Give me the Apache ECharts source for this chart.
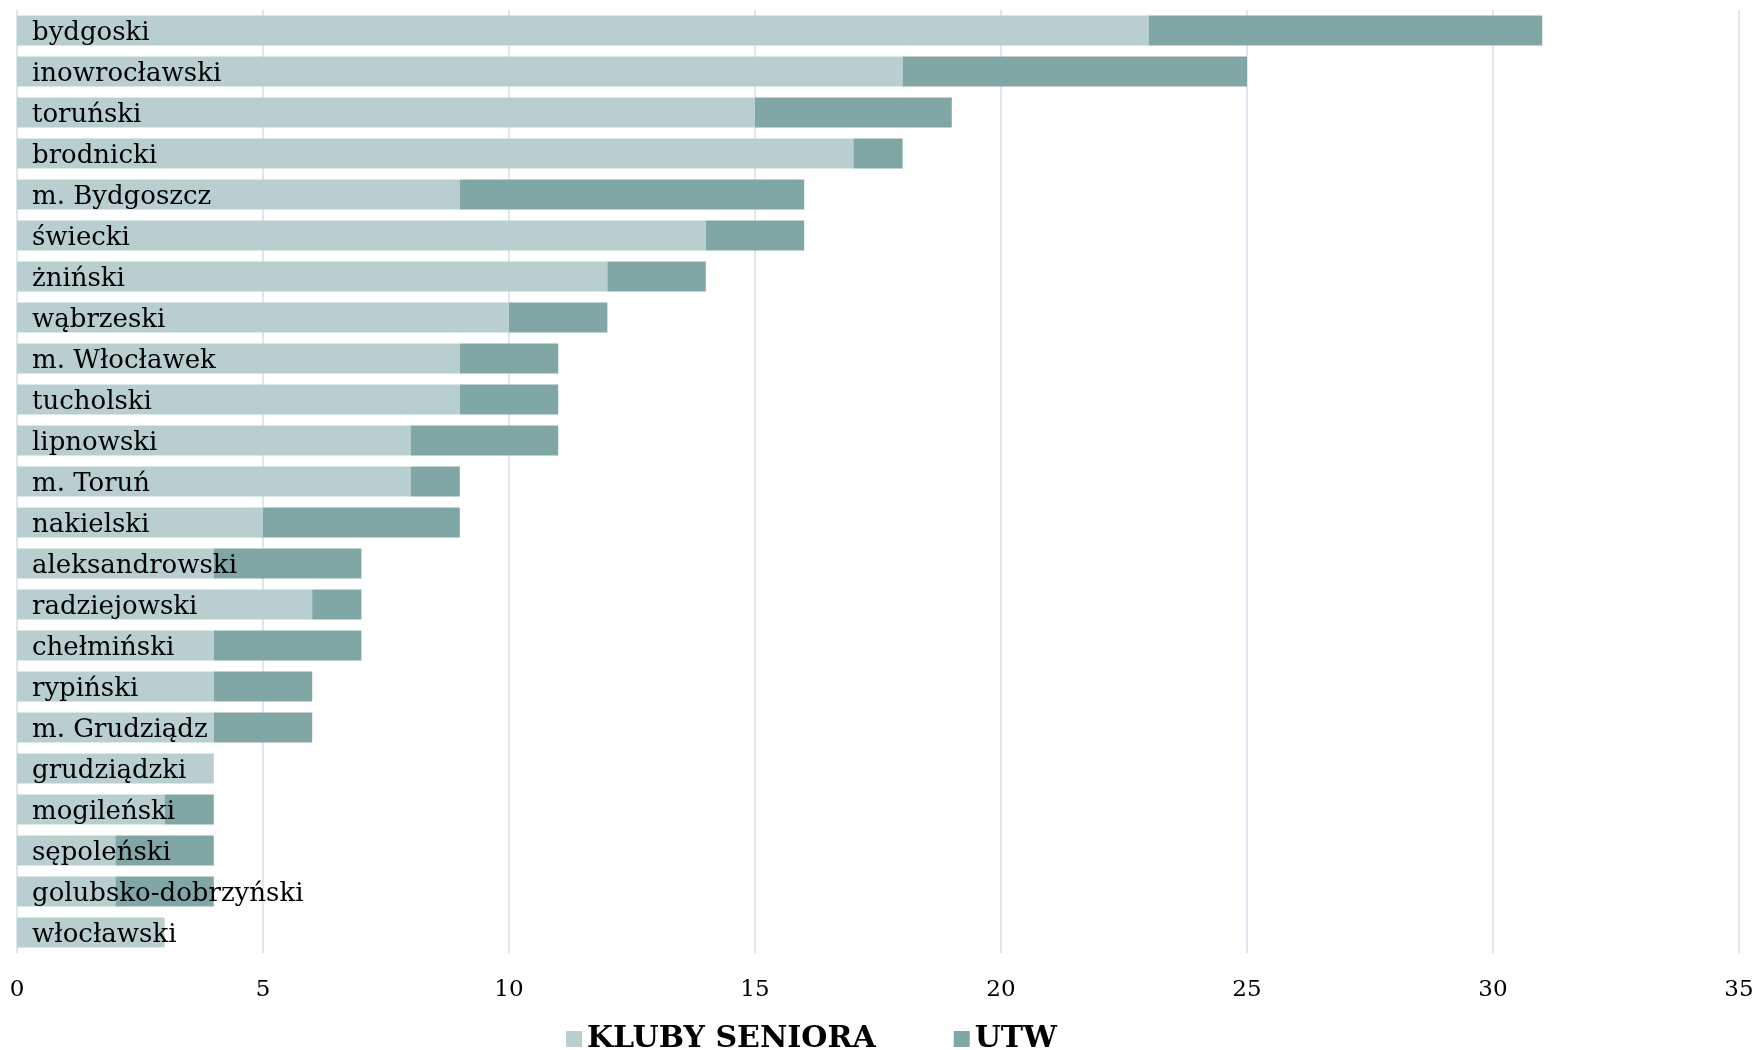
<!DOCTYPE html>
<html><head><meta charset="utf-8">
<script src="https://cdn.jsdelivr.net/npm/echarts@6/dist/echarts.min.js"></script>
<style>html,body{margin:0;padding:0;background:#fff}#c{width:1759px;height:1050px}</style>
</head><body><div id="c"></div>
<script>
const categories = ["bydgoski","inowrocławski","toruński","brodnicki","m. Bydgoszcz","świecki","żniński","wąbrzeski","m. Włocławek","tucholski","lipnowski","m. Toruń","nakielski","aleksandrowski","radziejowski","chełmiński","rypiński","m. Grudziądz","grudziądzki","mogileński","sępoleński","golubsko-dobrzyński","włocławski"];
const klubySeniora = [23,18,15,17,9,14,12,10,9,9,8,8,5,4,6,4,4,4,4,3,2,2,3];
const utw = [8,7,4,1,7,2,2,2,2,2,3,1,4,3,1,3,2,2,0,1,2,2,0];
const seriesNames = ["KLUBY SENIORA","UTW"];
const xTicks = {min:0, max:35, interval:5};

const font = "'DejaVu Serif', 'Liberation Serif', serif";
const chart = echarts.init(document.getElementById('c'));
chart.setOption({
  animation:false,
  grid:{left:17,right:20,top:10,bottom:97,containLabel:false},
  legend:{
    left:561, top:1019, itemWidth:16, itemHeight:16, itemGap:78,
    icon:'rect',
    textStyle:{fontFamily:font,fontSize:30,fontWeight:'bold',color:'#000'},
    data:seriesNames
  },
  xAxis:{
    type:'value', min:xTicks.min, max:xTicks.max, interval:xTicks.interval,
    axisLine:{show:false}, axisTick:{show:false},
    splitLine:{show:true,lineStyle:{color:'#d3deeb',width:1.5}},
    axisLabel:{fontFamily:font,fontSize:23,color:'#000',margin:26}
  },
  yAxis:{
    type:'category', data:categories, inverse:true, z:10,
    axisLine:{show:false}, axisTick:{show:false},
    axisLabel:{inside:true,margin:15,fontFamily:font,fontSize:26,color:'#000',
      formatter:function(v){return '{t|'+v+'}';},
      rich:{t:{fontFamily:font,fontSize:26,color:'#000',padding:[5,0,0,0]}}}
  },
  series:[
    {name:seriesNames[0],type:'bar',stack:'a',data:klubySeniora,barWidth:'73%',itemStyle:{color:'#b9cfcf'}},
    {name:seriesNames[1],type:'bar',stack:'a',data:utw,barWidth:'73%',itemStyle:{color:'#80a7a5'}}
  ]
});
</script></body></html>
